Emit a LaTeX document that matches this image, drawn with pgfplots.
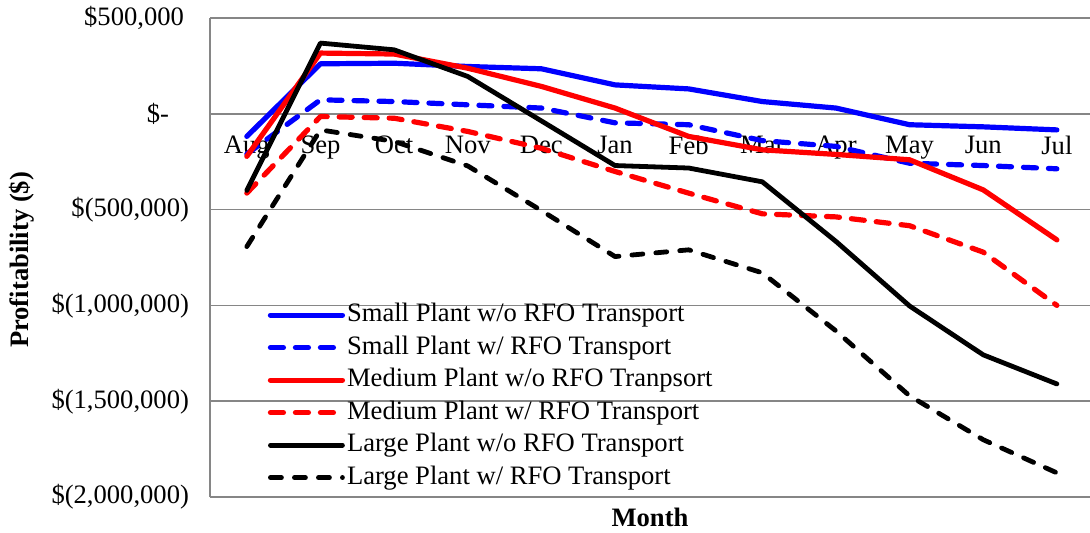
\documentclass[border=0pt]{standalone}
\usepackage{fontspec}
\setmainfont{Liberation Serif}
\usepackage{pgfplots}
\pgfplotsset{compat=1.18}
\definecolor{gridgray}{RGB}{134,134,134}
\newcommand{\chartfont}{\fontsize{13.3pt}{16pt}\selectfont}

% Monthly profitability (US$) for the six plant scenarios, Aug..Jul = 0..11
\pgfplotstableread{
m  smallwo  smallw   medwo    medw     largewo  largew
0  -118000  -210000  -222000  -414000  -400000  -693000
1   261000    73000   317000   -14000   369000   -84000
2   264000    64000   312000   -23000   334000  -144000
3   247000    47000   238000   -92000   195000  -272000
4   235000    30000   143000  -180000   -37000  -505000
5   151000   -47000    30000  -301000  -270000  -745000
6   130000   -57000  -118000  -414000  -283000  -710000
7    64000  -140000  -188000  -522000  -355000  -830000
8    30000  -170000  -212000  -538000  -666000 -1133000
9   -57000  -258000  -240000  -584000 -1003000 -1472000
10  -68000  -270000  -397000  -722000 -1258000 -1701000
11  -84000  -287000  -658000 -1000000 -1410000 -1874000
}\profit

\begin{document}
\begin{tikzpicture}[font=\chartfont]
\useasboundingbox (0,0) rectangle (545pt,266pt);
\begin{axis}[
  at={(105pt,17.5pt)}, anchor=south west,
  scale only axis, width=440pt, height=239.5pt,
  xmin=-0.5, xmax=11.45,
  ymin=-2000000, ymax=500000,
  scaled y ticks=false,
  axis y line*=left,
  axis x line*=middle,
  hide obscured x ticks=false,
  hide obscured y ticks=false,
  axis line style={gridgray, line width=0.75pt, -},
  xtick={0,...,11},
  xticklabels={Aug,Sep,Oct,Nov,Dec,Jan,Feb,Mar,Apr,May,Jun,Jul},
  major x tick style={draw=none},
  extra x ticks={0.5,1.5,2.5,3.5,4.5,5.5,6.5,7.5,8.5,9.5,10.5},
  extra x tick labels={},
  extra x tick style={grid=none, tick align=outside, major tick length=5.5pt,
    major tick style={draw=gridgray, line width=0.75pt}},
  xticklabel style={font=\chartfont, anchor=north, yshift=-7.5pt},
  ytick={-2000000,-1500000,-1000000,-500000,0,500000},
  yticklabels={{\$(2,000,000)},{\$(1,500,000)},{\$(1,000,000)},{\$(500,000)},{\$-\kern10pt},{\$500,000\kern2.5pt}},
  major y tick style={draw=none},
  yticklabel style={font=\chartfont, anchor=east, xshift=-7pt},
  ymajorgrids,
  major grid style={gridgray, line width=0.75pt},
  xlabel={Month},
  ylabel={Profitability (\$)},
  xlabel style={at={(axis description cs:0.5,-0.042)}, anchor=center, font=\chartfont\bfseries},
  ylabel style={at={(axis description cs:-0.2136,0.495)}, anchor=center, font=\chartfont\bfseries},
  legend style={at={(rel axis cs:0.063,0.415)}, anchor=north west, draw=none, fill=none,
    font=\chartfont, row sep=1.75pt, inner sep=1pt,
    nodes={text height=9.5pt, text depth=3pt, inner sep=1pt}},
  legend cell align=left,
  legend image code/.code={\draw[#1] (0pt,0pt) -- (36pt,0pt);},
  every axis plot/.append style={line join=round},
]
\addplot[blue, line width=2.6pt, line cap=round] table[x=m, y=smallwo] {\profit};
\addlegendentry{Small Plant w/o RFO Transport}
\addplot[blue, line width=2.6pt, line cap=round, dash pattern=on 6.5pt off 6pt] table[x=m, y=smallw] {\profit};
\addlegendentry{Small Plant w/ RFO Transport}
\addplot[red, line width=2.6pt, line cap=round] table[x=m, y=medwo] {\profit};
\addlegendentry{Medium Plant w/o RFO Tranpsort}
\addplot[red, line width=2.6pt, line cap=round, dash pattern=on 6.5pt off 6pt] table[x=m, y=medw] {\profit};
\addlegendentry{Medium Plant w/ RFO Transport}
\addplot[black, line width=2.4pt, line cap=round] table[x=m, y=largewo] {\profit};
\addlegendentry{Large Plant w/o RFO Transport}
\addplot[black, line width=2.4pt, line cap=round, dash pattern=on 5.5pt off 6.5pt] table[x=m, y=largew] {\profit};
\addlegendentry{Large Plant w/ RFO Transport}
\end{axis}
\end{tikzpicture}
\end{document}
